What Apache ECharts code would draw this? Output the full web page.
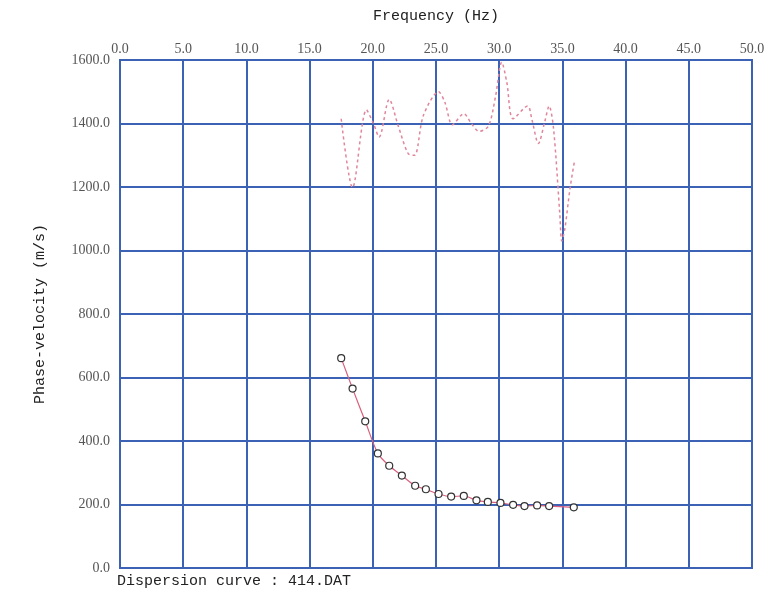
<!DOCTYPE html>
<html>
<head>
<meta charset="utf-8">
<script src="https://cdn.jsdelivr.net/npm/echarts@6/dist/echarts.min.js"></script>
<style>
  html, body { margin: 0; padding: 0; background: #fff; }
  #main { width: 780px; height: 607px; }
</style>
</head>
<body>
<div id="main"></div>
<script>
// dashed curve (upper)
var dashFreq = [17.5, 18.4, 19.5, 20.05, 20.5, 21.3, 22.0, 22.8, 23.3, 24.0, 25.2, 25.7, 26.3, 27.2, 27.8, 28.4, 29.15, 29.7, 30.2, 30.6, 31.1, 32.25, 32.6, 33.1, 33.6, 33.95, 34.3, 34.8, 34.95, 35.2, 35.6, 35.95]
var dashVel = [1415, 1198, 1443, 1400, 1357, 1476, 1394, 1305, 1300, 1425, 1500, 1467, 1396, 1431, 1400, 1375, 1392, 1483, 1593, 1530, 1415, 1455, 1410, 1337, 1405, 1455, 1384, 1112, 1030, 1070, 1195, 1280]

// dispersion points (lower)
var dispFreq = [17.5, 18.4, 19.4, 20.4, 21.3, 22.3, 23.35, 24.2, 25.2, 26.2, 27.2, 28.2, 29.1, 30.1, 31.1, 32.0, 33.0, 33.95, 35.9]
var dispVel = [661, 565, 462, 361, 322, 291, 259, 248, 233, 225, 227, 213, 208, 205, 199, 195, 197, 195, 191]

var xTicks = [0, 5, 10, 15, 20, 25, 30, 35, 40, 45, 50]
var yTicks = [0, 200, 400, 600, 800, 1000, 1200, 1400, 1600]

var blue = '#3b62b5'
var labelFont = '"Liberation Serif", "DejaVu Serif", serif'
var monoFont = '"Liberation Mono", "DejaVu Sans Mono", monospace'

function pairs(a, b) {
    var out = []
    for (var i = 0; i < a.length; i++) out.push([a[i], b[i]])
    return out
}

var chart = echarts.init(document.getElementById('main'))
var option = {
    animation: false,
    backgroundColor: '#fff',
    grid: {
        left: 120, right: 28, top: 60, bottom: 39,
        show: true, borderColor: blue, borderWidth: 2
    },
    xAxis: {
        type: 'value',
        position: 'top',
        min: xTicks[0], max: xTicks[xTicks.length - 1], interval: 5,
        name: 'Frequency (Hz)',
        nameLocation: 'middle',
        nameGap: 36,
        nameTextStyle: { fontFamily: monoFont, fontSize: 15, color: '#222' },
        axisLine: { show: true, lineStyle: { color: blue, width: 2 } },
        axisTick: { show: false },
        axisLabel: {
            margin: 4, color: '#555', fontFamily: labelFont, fontSize: 14,
            formatter: function (v) { return v.toFixed(1) }
        },
        splitLine: { show: true, lineStyle: { color: blue, width: 2 } }
    },
    yAxis: {
        type: 'value',
        min: yTicks[0], max: yTicks[yTicks.length - 1], interval: 200,
        name: 'Phase-velocity (m/s)',
        nameLocation: 'middle',
        nameRotate: 90,
        nameGap: 72,
        nameTextStyle: { fontFamily: monoFont, fontSize: 15, color: '#222' },
        axisLine: { show: true, lineStyle: { color: blue, width: 2 } },
        axisTick: { show: false },
        axisLabel: {
            margin: 10, color: '#555', fontFamily: labelFont, fontSize: 14,
            formatter: function (v) { return v.toFixed(1) }
        },
        splitLine: { show: true, lineStyle: { color: blue, width: 2 } }
    },
    series: [
        {
            name: 'dashed',
            type: 'line',
            data: pairs(dashFreq, dashVel),
            smooth: 0.3,
            showSymbol: false,
            lineStyle: { color: '#e0869c', width: 1.5, type: [3, 3] }
        },
        {
            name: 'dispersion',
            type: 'line',
            data: pairs(dispFreq, dispVel),
            smooth: 0.3,
            symbol: 'circle',
            symbolSize: 7,
            lineStyle: { color: '#d9607e', width: 1.2 },
            itemStyle: { color: '#fff', borderColor: '#333', borderWidth: 1.2 }
        }
    ],
    graphic: [
        {
            type: 'text',
            left: 117, top: 574,
            style: { text: 'Dispersion curve : 414.DAT', font: '15px ' + monoFont, fill: '#222' }
        }
    ]
}
chart.setOption(option)
</script>
</body>
</html>
